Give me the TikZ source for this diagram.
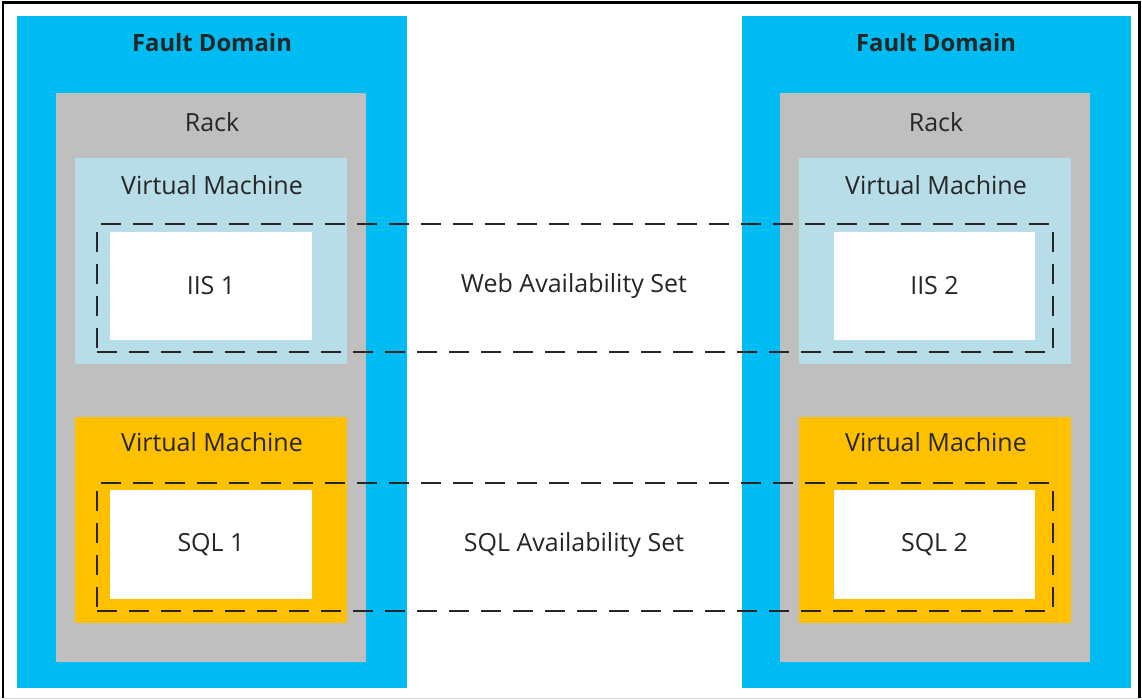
\documentclass[tikz,border=0pt]{standalone}
\usepackage{fontspec}
\setmainfont{Open Sans}
\definecolor{fdblue}{HTML}{00BCF2}
\definecolor{rackgray}{HTML}{BFBFBF}
\definecolor{vmblue}{HTML}{B7DDE8}
\definecolor{vmorange}{HTML}{FFC000}
\begin{document}
\begin{tikzpicture}[x=1pt,y=-1pt,
  box/.style={rectangle, inner sep=0pt, outer sep=0pt, draw=none},
  lbl/.style={inner sep=0pt, font=\fontsize{25}{29}\selectfont, text=black!85},
  bold/.style={lbl, font=\fontsize{23.8}{29}\selectfont\bfseries},
  setbox/.style={rectangle, inner sep=0pt, outer sep=0pt, draw=black!85, line width=2.5pt, dash pattern=on 20pt off 12pt}]
\useasboundingbox (0,0) rectangle (1142,700);
\fill[white] (0,0) rectangle (1142,700);
% frame
\draw[black, line width=2.5pt] (3,698) -- (3,2.5) -- (1139.5,2.5) -- (1139.5,698);
\draw[black!15, line width=1pt] (3,698.5) -- (1139.5,698.5);
% fault domains
\node[box, fill=fdblue, minimum width=390pt, minimum height=672pt] (fd1) at (212,352) {};
\node[box, fill=fdblue, minimum width=389pt, minimum height=672pt] (fd2) at (936.5,352) {};
% racks
\node[box, fill=rackgray, minimum width=310pt, minimum height=569pt] (rack1) at (211,377.5) {};
\node[box, fill=rackgray, minimum width=310pt, minimum height=569pt] (rack2) at (935,377.5) {};
% virtual machines
\node[box, fill=vmblue, minimum width=272pt, minimum height=206pt] (vmw1) at (211,261) {};
\node[box, fill=vmblue, minimum width=272pt, minimum height=206pt] (vmw2) at (935,261) {};
\node[box, fill=vmorange, minimum width=272pt, minimum height=206pt] (vms1) at (211,520) {};
\node[box, fill=vmorange, minimum width=272pt, minimum height=206pt] (vms2) at (935,520) {};
% inner white boxes
\node[box, fill=white, minimum width=202pt, minimum height=108pt] (iis1) at (211,286) {};
\node[box, fill=white, minimum width=201pt, minimum height=108pt] (iis2) at (934.5,286) {};
\node[box, fill=white, minimum width=202pt, minimum height=109pt] (sql1) at (211,544.5) {};
\node[box, fill=white, minimum width=201pt, minimum height=109pt] (sql2) at (934.5,544.5) {};
% availability sets
\node[setbox, minimum width=956pt, minimum height=128pt] (webset) at (575,288) {};
\node[setbox, minimum width=956pt, minimum height=128pt] (sqlset) at (575,547) {};
% labels
\node[bold] (fdl1) at (212,43) {Fault Domain};
\node[bold] (fdl2) at (936,43) {Fault Domain};
\node[lbl] (rl1) at (212,122) {Rack};
\node[lbl] (rl2) at (936,122) {Rack};
\node[lbl] (vl1) at (212,185) {Virtual Machine};
\node[lbl] (vl2) at (936,185) {Virtual Machine};
\node[lbl] (vl3) at (212,442) {Virtual Machine};
\node[lbl] (vl4) at (936,442) {Virtual Machine};
\node[lbl] at (iis1.center) {IIS 1};
\node[lbl] at (iis2.center) {IIS 2};
\node[lbl] at (sql1.center) {SQL 1};
\node[lbl] at (sql2.center) {SQL 2};
\node[lbl] (wl) at (574,286) {Web Availability Set};
\node[lbl] (sl) at (574,545) {SQL Availability Set};
\end{tikzpicture}
\end{document}
